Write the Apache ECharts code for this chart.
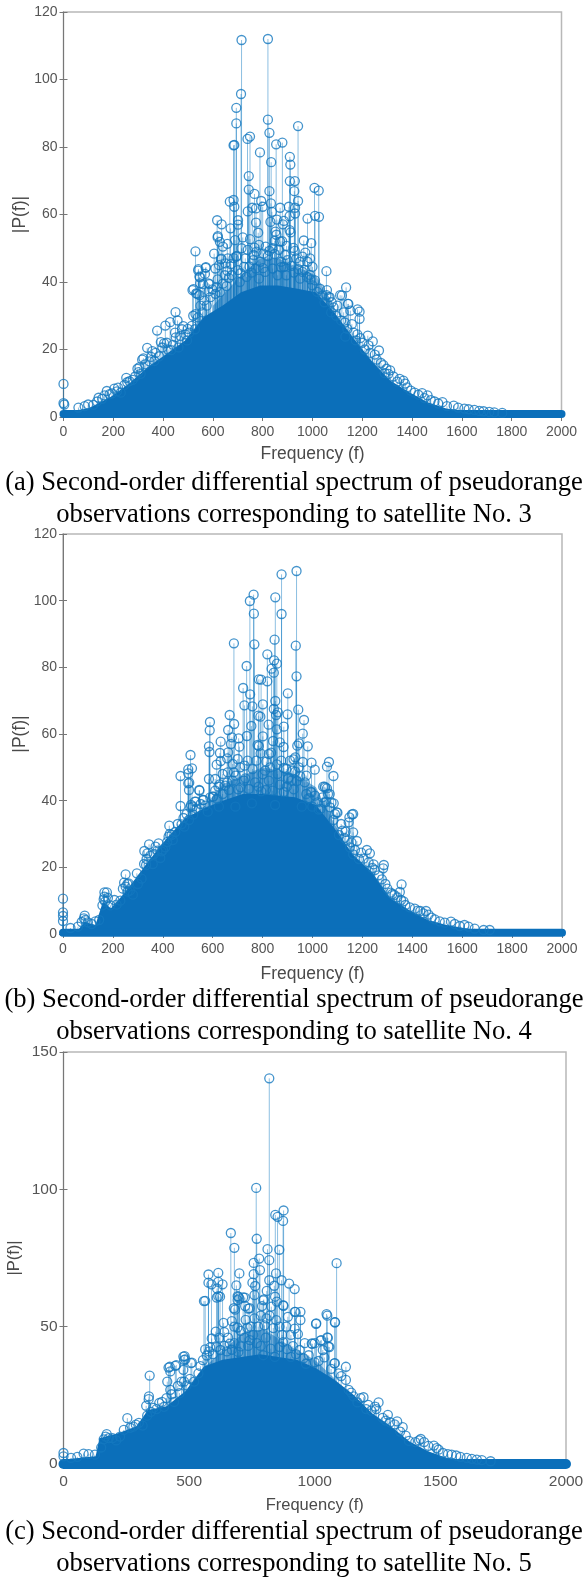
<!DOCTYPE html>
<html><head><meta charset="utf-8">
<script src="https://cdn.jsdelivr.net/npm/echarts@6/dist/echarts.min.js"></script>
<style>html,body{margin:0;padding:0;background:#fff}#c{width:584px;height:1578px}</style></head>
<body><div id="c"></div>
<script>
const pointsA=[[715,111.7],[821,112],[713,95.7],[694,91.6],[694,87],[683,80.5],[686,80.6],[821,88.1],[827,84.2],[942,86.2],[739,82.4],[749,83.1],[789,78.4],[854,80.8],[879,81.3],[834,75.5],[909,77.1],[911,74.8],[744,71.4],[909,69.9],[929,69.9],[744,67.4],[827,66.9],[927,66.9],[767,66.1],[1008,67.9],[1025,67.1],[668,63.8],[683,64.3],[686,62.3],[794,64],[833,63.3],[942,64],[930,62],[905,62.3],[870,62],[758,62],[773,61.8],[800,62.3],[740,60.9],[837,60.8],[930,60.3],[908,59.5],[980,58.8],[1010,59.6],[1026,59.3],[617,58.3],[635,57.1],[701,58.3],[701,57],[773,57.6],[831,57.8],[857,58.5],[885,58.1],[881,57.1],[671,55.9],[782,54.6],[851,54.9],[908,55.4],[912,54.7],[620,53.6],[619,53.2],[720,53.2],[628,51.9],[658,51.3],[689,52.4],[749,52.7],[848,52.2],[870,52],[878,52.1],[965,52.3],[995,51.5],[855,54],[767,50.2],[896,50.7],[923,50.1],[929,49.2],[530,49.1],[803,48.4],[827,49.2],[605,48.4],[971,48.7],[764,48],[821,47.7],[848,48.3],[695,47.7],[683,47.1],[960,47.5],[990,47],[634,46.9],[542,43.8],[572,44.4],[568,42.4],[546,41.6],[549,39.6],[582,39.6],[522,37.9],[533,36.6],[546,36.1],[583,37.2],[619,40.8],[625,45],[632,46.7],[672,45.3],[658,43.3],[694,47.5],[711,42.6],[747,44.6],[762,46.5],[801,44.1],[874,46],[874,44.4],[915,44.8],[943,43.8],[969,43.6],[989,42.1],[992,40.8],[1056,43.2],[1019,37.1],[1058,37.6],[1056,36.1],[1111,36.1],[1135,38.4],[1142,33.5],[1069,35.5],[1181,31.9],[450,31.1],[0,9.8],[0,4.1],[3,3.7],[99,3.7],[141,5.7],[174,7.7],[204,8.4],[219,8.7],[252,11.6],[256,10.3],[301,13.3],[297,14.3],[316,17],[321,17.4],[336,20.5],[357,19.5],[376,25.6],[391,22.2],[409,27.1],[428,28.1],[458,28.6],[451,23.6],[481,26.9],[499,26.1],[496,22.7],[521,30],[530,30.5],[518,37.6],[538,36.5],[541,43.4],[571,44.2],[548,41.4],[560,39.4],[586,39.4],[1065,35.5],[1077,34],[1118,36],[1144,33.5],[1152,31.5],[1189,31.2],[1189,29.1],[1095,30],[1115,28.6],[1140,26.1],[1132,23.8],[1174,22.7],[1192,23.4],[1222,24.1],[1242,22.4],[1225,21.2],[1267,19.7],[1275,16],[1297,14.3],[1312,13.8],[1350,11.3],[1365,10.8],[1372,9.9],[1440,7.1],[1462,6.4],[1522,4.4],[1567,3.4],[1627,2.3],[1687,1.7],[1762,1.2],
[60,2.8],[85,3.2],[120,3.6],[135,4.6],[155,5.4],[165,6.4],[185,6.8],[195,7],[215,7.6],[230,7.2],[245,9.5],[265,10.6],[278,11],[288,12],[305,14.8],[310,12.8],[328,15.6],[345,16.5],[352,17.8],[365,16.6],[370,19],[384,18],[397,20.6],[404,21.8],[415,22],[420,20],[432,19.8],[440,21.4],[448,25],[462,20.6],[470,24],[476,26],[490,24.5],[505,25],[515,27],[528,26],[540,29.5],[550,33],[558,31],[565,34.5],[575,33],[590,35.5],[598,37.8],[610,36.5],[615,38.5],[628,37],[640,39.5],[648,42],[655,38.8],[664,41.2],[676,42],[700,43.5],[708,40],[725,44.5],[735,41.5],[755,42.8],[772,44],[785,41],[790,46],[810,43],[840,44],[860,42],[885,44.5],[895,42],[925,42.8],[950,41],[960,43],[978,41.5],[1000,39],[1010,40.5],[1030,38],[1040,36],[1048,34],[1075,31],[1085,32.5],[1100,33],[1125,31],[1130,28],[1158,27.5],[1165,25],[1180,24.5],[1200,22],[1210,20],[1232,19],[1250,18.5],[1258,17],[1285,15.4],[1290,13],[1305,12.8],[1325,12],[1340,10.5],[1380,8.8],[1395,7.8],[1410,7.2],[1425,6.6],[1450,5.6],[1475,5],[1490,4.6],[1505,4],[1540,3.2],[1585,2.8],[1610,2.5],[1650,2.1],[1670,1.8],[1710,1.5],[1730,1.4],
[640,50.5],[660,47],[715,50],[730,47],[740,49.5],[775,49],[785,51],[812,50.5],[840,50],[865,49.5],[890,48],[900,46.5],[935,47],[950,46],[980,46],[1000,44.5],[610,44],[650,45.5]];
const pointsB=[[936,108.9],[876,107.9],[764,101.8],[749,99.9],[851,101],[765,96.1],[876,96],[848,88.3],[685,87.2],[767,86.9],[933,86.5],[819,83.9],[846,82.1],[857,81.1],[736,80.4],[836,79.6],[845,78.4],[936,77.3],[785,76.4],[794,76.3],[819,75.8],[722,73.8],[750,71.9],[901,72.2],[851,69.9],[727,68.6],[759,68.3],[801,68.9],[845,67.5],[943,67.3],[861,66.5],[668,65.7],[783,65.5],[791,65.2],[900,65.9],[854,65.7],[589,63.6],[686,63],[824,62.8],[755,62.4],[885,62.2],[966,64.2],[588,61.1],[662,61.2],[857,61.4],[961,60.1],[677,59],[737,59.4],[801,59.3],[704,58.7],[632,57.7],[842,57.9],[869,57.5],[780,56.7],[946,57.2],[585,56.3],[673,57],[707,56.2],[785,56.4],[884,56.1],[981,56.3],[939,56.5],[587,54.6],[511,53.7],[629,54.3],[662,54.5],[792,54.2],[834,54.4],[931,53],[924,52.4],[632,51.9],[658,52.7],[700,52.5],[815,51.7],[961,51.6],[996,51.4],[1066,51.6],[1058,50.2],[616,50.8],[728,50.5],[857,50.9],[517,49.7],[502,49.4],[1009,49.3],[885,49.8],[502,48.2],[685,48.5],[471,47.4],[1084,47.4],[931,48.7],[951,47.3],[585,46.5],[692,47.5],[800,47.9],[901,46.5],[628,44.9],[502,45.2],[969,45.5],[1043,44.2],[1051,43.9],[0,10.6],[0,6.5],[0,5.4],[0,3.9],[87,5.5],[84,4.7],[90,4.2],[166,12.5],[176,12.5],[166,11.2],[169,9.7],[206,10.2],[251,17.9],[296,18.2],[263,15.2],[251,14.2],[259,12.7],[326,24.9],[345,26.9],[338,24.2],[383,27.2],[371,26.2],[378,25],[333,20.7],[426,32.5],[428,30],[423,29.2],[435,29.7],[401,25.2],[471,38.4],[475,32.9],[486,32.2],[505,34.2],[505,43.2],[547,43],[561,40.2],[528,39.7],[520,38.2],[580,36.7],[602,41.2],[996,42.5],[988,40.7],[999,38.2],[1032,37.5],[1058,43.7],[1069,42],[1055,39.7],[1085,39.2],[1100,36.4],[1084,34.2],[1163,36],[1148,35],[1145,33.5],[1106,29.7],[1133,30.7],[1163,30.5],[1138,28],[1178,27.9],[1156,27.5],[1218,25.2],[1230,24.2],[1163,23.9],[1186,22.5],[1245,20.9],[1286,20.7],[1283,19.7],[1250,19.2],[1313,12.4],[1328,11.7],[1357,14.9],[1355,10.2],[1372,8.7],[1432,6.9],[1455,6.9],[1477,4.9],[1555,3.7],[1609,2.7],[1686,1.2],[506,45.4],[546,43.2],[513,38.7],[533,39.7],[563,40.2],[623,44.2],[658,45.4],[702,43.4],[600,41.2],[665,43.2],[731,46.7],[784,44.2],[813,43.2],[903,46.9],[897,44.2],[937,45.9],[992,42.7],[983,40.7],[1049,44.2],[1062,42],[1076,39.4],[1047,39.4],[1097,36.5],[1025,37.3],[1158,35.9],[625,38.2],[691,38.2],[757,39.2],[850,38.7],[957,38.2],
[30,1.8],[60,2.2],[75,3.6],[100,3.5],[115,3],[130,3.8],[145,4.2],[158,8.6],[163,10.4],[180,10.8],[190,8.6],[215,8.8],[230,10],[240,13.6],[245,15.4],[258,15],[268,13],[280,11.8],[300,15],[315,16.6],[325,21],[335,22.5],[350,23.5],[360,21],[365,24],[390,22.8],[395,24.8],[410,26],[418,27.6],[440,28.2],[450,30.6],[460,33],[483,34.8],[495,36],[510,38],[522,35.8],[535,37.6],[552,39],[570,38.5],[590,41],[610,43],[618,40.5],[640,42],[650,44.5],[680,46],[712,44],[725,46],[745,43.5],[770,45.5],[795,42.8],[825,46],[840,43],[870,44.8],[885,42.6],[915,46],[925,43.4],[975,42],[1010,41.5],[1020,39.5],[1040,41],[1070,38],[1090,36],[1115,33],[1120,31],[1128,28.8],[1150,26],[1170,25.2],[1195,24.4],[1205,22.6],[1225,21.5],[1240,19.8],[1265,17.6],[1278,16.4],[1292,15],[1300,13.6],[1320,12],[1340,11],[1350,12.6],[1365,9.8],[1390,8],[1410,7.6],[1422,7],[1445,6.2],[1465,5.8],[1490,4.4],[1510,3.8],[1530,3.4],[1570,3],[1590,2.4],[1625,2.2],[1650,1.6],[1710,1.2],
[660,48.5],[680,51],[710,50],[740,52],[760,49.5],[775,52],[810,49],[825,54],[830,50],[860,48],[875,52],[895,49.5],[910,52],[920,49],[945,50],[975,47.5],[640,48],[610,46.5]];
const pointsC=[[819,140.4],[767,100.5],[666,84.1],[769,82],[680,78.7],[843,90.7],[852,90],[876,92.3],[874,88.5],[859,78],[812,78.2],[819,74.2],[1087,73.1],[779,74.8],[757,73.2],[782,70.6],[757,69.1],[700,69.4],[616,69.6],[577,69],[846,69.4],[577,66],[589,65.4],[616,66.3],[633,65.4],[688,65],[752,66],[763,64.8],[819,66.9],[868,66.9],[839,64.9],[898,65.7],[920,63.7],[809,63],[611,63.9],[760,61.5],[797,59.9],[842,60.9],[693,61.1],[700,60.3],[715,60.7],[616,61.1],[623,60.9],[559,59.3],[693,59.7],[876,57.6],[849,59.1],[723,57.5],[741,56.7],[790,57.5],[827,57.3],[923,55.4],[943,55.4],[678,56.7],[1047,54.6],[564,59.4],[610,60.6],[696,60.9],[722,60.6],[683,56.2],[735,56.6],[795,59.6],[874,57.8],[637,51.4],[670,52],[692,49.7],[732,49.6],[808,53],[847,52.4],[893,53.6],[920,55.4],[943,52.4],[887,50],[920,49.3],[933,47.3],[1006,51.2],[1050,54],[1081,51.6],[1052,45.9],[1026,45.1],[988,43.9],[1058,42.6],[1032,41.5],[1078,36.6],[1124,35.4],[606,48.2],[590,45.7],[564,41.7],[482,39.3],[485,38.1],[511,36.9],[449,36],[423,35.4],[662,43.8],[742,45.1],[874,44.4],[940,41.5],[584,42.5],[624,41.5],[696,40.8],[795,39.6],[841,39],[913,42.9],[976,39.6],[0,4],[0,2.8],[80,3.8],[172,10.9],[168,10],[254,16.7],[288,14.3],[343,32.2],[340,24.6],[339,23.6],[329,21.2],[381,22.2],[418,35.1],[425,33.7],[413,30],[425,27],[410,24],[445,35.7],[477,39.1],[480,37.9],[507,36.7],[477,34.3],[480,30],[537,33],[1005,51],[1080,51.6],[1050,46.1],[1054,42.7],[1023,44.9],[990,43.7],[1080,36.7],[1124,30.6],[1154,24.6],[1194,24.3],[1213,21.5],[1254,22.4],[1240,20.9],[1291,17.9],[1328,15.5],[1350,13.4],[1362,10.3],[1422,9.1],[1474,6.7],[1493,5.2],[1563,3.1],[1645,1.6],
[30,2.2],[55,2.6],[100,3.6],[125,3.4],[150,6],[160,9],[180,9.4],[195,9.4],[210,8.6],[225,10],[240,12.4],[265,13.2],[278,13.6],[300,15],[315,14],[333,17.6],[348,19],[358,20.4],[370,20],[392,22.6],[400,20.8],[430,25.4],[440,22.6],[455,28.4],[462,25.8],[470,30],[490,28.6],[503,31],[520,30],[545,35.6],[555,37.8],[570,39.5],[580,41],[595,40],[610,42.6],[640,43],[650,41],[670,41.6],[680,44],[705,42.8],[720,46],[735,43],[755,47],[770,44],[785,43],[805,46],[825,42],[860,42.6],[890,41.8],[905,39],[925,40],[955,38.5],[965,36.5],[1000,37],[1015,37.5],[1038,38.8],[1065,34.6],[1095,33],[1105,32],[1135,27],[1145,26],[1170,22.4],[1182,24],[1205,20],[1225,19.4],[1245,20],[1270,16.8],[1282,15.8],[1300,15.2],[1318,14.4],[1340,11.8],[1375,8.4],[1400,8],[1415,8.6],[1435,8],[1452,6.6],[1485,5.8],[1510,4],[1530,3.6],[1545,3.4],[1580,2.6],[1605,2.2],[1625,1.9],[1665,1.4],[1700,1],
[640,48],[655,46],[680,50],[705,48.5],[725,52.5],[745,50],[760,53],[775,50],[785,54],[800,50.5],[820,54],[835,49.5],[860,50],[870,47],[905,47],[960,44],[1000,44],[620,46]];
const bandA=[[0,1.5],[99,2.5],[189,5.9],[264,9.9],[339,14.8],[413,18.7],[488,22.7],[563,29.6],[638,33],[713,37],[790,39],[863,39],[940,38],[1013,37],[1088,31],[1162,23.6],[1237,16.7],[1312,10.8],[1387,7.4],[1462,4.4],[1537,2.5],[1687,1],[2000,0.5]];
const bandB=[[0,1.2],[60,1.2],[87,3.7],[130,2.7],[160,9.7],[192,7.7],[251,12.7],[341,21.7],[416,28.7],[490,34.7],[565,37.7],[640,40],[720,42],[800,42],[930,41],[1014,38.7],[1088,31.7],[1163,23.7],[1237,18.7],[1312,10.7],[1387,7.2],[1462,4.2],[1537,2.7],[1612,1.7],[1686,0.7],[2000,0.5]];
const bandC=[[0,1.6],[128,2.8],[143,9.4],[217,11.2],[291,13.7],[336,19.7],[410,21],[485,26.5],[559,35.5],[633,38],[708,39],[782,40],[856,39],[931,37.9],[1005,34.9],[1080,30.6],[1154,25.2],[1228,18.5],[1303,13.7],[1377,8.2],[1451,4.6],[1526,2.2],[1674,0.6],[2000,0.5]];
const hazeA=[[600,33],[713,42],[790,47],[863,47],[1013,42],[1088,33]];
const hazeB=[[520,34],[640,45],[800,50],[930,48],[1014,44],[1088,33],[1163,23]];
const hazeC=[[559,35],[640,42],[720,48],[800,49],[900,43],[1000,38],[1080,31]];
const floorA=[[0,0.9],[2000,0.9]];
const floorB=[[0,0.4],[2000,0.4]];
const floorC=[[0,0],[2000,0]];
const captions=[["(a) Second-order differential spectrum of pseudorange",483],["observations corresponding to satellite No. 3",515],["(b) Second-order differential spectrum of pseudorange",1000],["observations corresponding to satellite No. 4",1032],["(c) Second-order differential spectrum of pseudorange",1532],["observations corresponding to satellite No. 5",1564]];
const BLUE='#0072BD', FONT='"Liberation Sans",Arial,sans-serif';
const panels=[
 {pts:pointsA,band:bandA,haze:hazeA,floor:floorA,fw:8,left:63.5,right:22.5,top:12,h:405,ymax:120,yint:20,xint:200,xgap:28,nameSize:17.5,yname:34,fs:14,lm:8},
 {pts:pointsB,band:bandB,haze:hazeB,floor:floorB,fw:8,left:63,right:22,top:534,h:400,ymax:120,yint:20,xint:200,xgap:31,nameSize:17.5,yname:34,fs:14,lm:8},
 {pts:pointsC,band:bandC,haze:hazeC,floor:floorC,fw:10,left:63.5,right:18,top:1052,h:412,ymax:150,yint:50,xint:500,xgap:33,nameSize:16.5,yname:41,fs:15.5,lm:10}
];
const grid=[],xAxis=[],yAxis=[],series=[];
const plain=v=>String(v);
panels.forEach((p,i)=>{
 grid.push({left:p.left,right:p.right,top:p.top,height:p.h,show:true,outerBoundsMode:'none',containLabel:false,borderColor:'#b8b8b8',borderWidth:1.5,backgroundColor:'#fff'});
 const tick={show:true,inside:true,length:4,lineStyle:{color:'#777',width:1}};
 xAxis.push({gridIndex:i,type:'value',min:0,max:2000,interval:p.xint,position:'bottom',name:'Frequency (f)',nameLocation:'middle',nameMoveOverlap:false,nameGap:p.xgap,nameTextStyle:{fontFamily:FONT,fontSize:p.nameSize,color:'#4a4a4a'},axisLine:{show:true,onZero:false,lineStyle:{color:'#555',width:1}},axisTick:tick,axisLabel:{fontFamily:FONT,fontSize:p.fs,color:'#555',margin:p.lm,formatter:plain,hideOverlap:false},splitLine:{show:false}});
 xAxis.push({gridIndex:i,type:'value',min:0,max:2000,interval:p.xint,position:'top',axisLine:{show:false},axisTick:tick,axisLabel:{show:false},splitLine:{show:false}});
 yAxis.push({gridIndex:i,type:'value',min:0,max:p.ymax,interval:p.yint,position:'left',name:'|P(f)|',nameLocation:'middle',nameMoveOverlap:false,nameGap:p.yname,nameRotate:90,nameTextStyle:{fontFamily:FONT,fontSize:p.nameSize,color:'#4a4a4a'},axisLine:{show:true,onZero:false,lineStyle:{color:'#777',width:1}},axisTick:tick,axisLabel:{fontFamily:FONT,fontSize:p.fs,color:'#555',margin:6,formatter:plain},splitLine:{show:false}});
 yAxis.push({gridIndex:i,type:'value',min:0,max:p.ymax,interval:p.yint,position:'right',axisLine:{show:false},axisTick:tick,axisLabel:{show:false},splitLine:{show:false}});
 const xi=i*2,yi=i*2;
 series.push({type:'line',xAxisIndex:xi,yAxisIndex:yi,data:p.haze,symbol:'none',lineStyle:{width:0},areaStyle:{color:'#0b6fba',opacity:0.55},silent:true,z:2,animation:false});
 series.push({type:'line',xAxisIndex:xi,yAxisIndex:yi,data:p.band,symbol:'none',lineStyle:{width:0},areaStyle:{color:'#0b6fba',opacity:1},silent:true,z:2,animation:false});
 series.push({type:'line',xAxisIndex:xi,yAxisIndex:yi,data:p.floor,symbol:'none',clip:false,lineStyle:{width:p.fw,color:'#0b6fba',cap:'round'},silent:true,z:3,animation:false});
 series.push({type:'custom',xAxisIndex:xi,yAxisIndex:yi,data:p.pts,silent:true,z:1,animation:false,encode:{x:0,y:1},renderItem:(params,api)=>{const a=api.coord([api.value(0),0]),b=api.coord([api.value(0),api.value(1)]);return{type:'line',shape:{x1:a[0],y1:a[1],x2:b[0],y2:b[1]},style:{stroke:BLUE,lineWidth:1,opacity:0.45}};}});
 series.push({type:'scatter',xAxisIndex:xi,yAxisIndex:yi,data:p.pts,symbol:'circle',symbolSize:9,clip:false,silent:true,z:4,animation:false,itemStyle:{color:'rgba(0,0,0,0)',borderColor:'#1478bf',borderWidth:1.3}});
});
const graphic=captions.map(c=>({type:'text',x:294,y:c[1],style:{text:c[0],fontFamily:'"Liberation Serif","Times New Roman",serif',fontSize:26.6,fill:'#000',align:'center',verticalAlign:'middle'}}));
const chart=echarts.init(document.getElementById('c'),null,{renderer:'canvas'});
chart.setOption({animation:false,backgroundColor:'#fff',grid,xAxis,yAxis,series,graphic});
</script></body></html>
